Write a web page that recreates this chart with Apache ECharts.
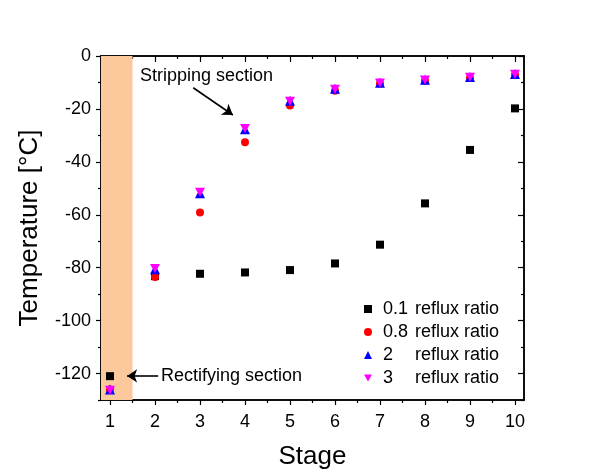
<!DOCTYPE html>
<html>
<head>
<meta charset="utf-8">
<script src="https://cdn.jsdelivr.net/npm/echarts@6/dist/echarts.min.js"></script>
<style>html,body{margin:0;padding:0;background:#fff}#c{width:595px;height:476px}</style>
</head>
<body>
<div id="c"></div>
<script>
const stages = [1, 2, 3, 4, 5, 6, 7, 8, 9, 10];
const reflux01 = [-121, -83.2, -82.3, -81.8, -80.9, -78.4, -71.3, -55.7, -35.5, -19.8];
const reflux08 = [-126, -83.5, -59.1, -32.6, -18.7, -13.1, -10.4, -9.4, -8.2, -7.1];
const reflux2 = [-126, -80.6, -51.9, -27.7, -16.9, -12.4, -10.1, -9.0, -7.9, -6.8];
const reflux3 = [-126.3, -80.3, -51.5, -27.4, -17.1, -12.6, -10.2, -9.1, -8.0, -6.9];
const seriesNames = ['0.1', '0.8', '2', '3'];
const xMajor = stages;
const xMinor = [1.5, 2.5, 3.5, 4.5, 5.5, 6.5, 7.5, 8.5, 9.5];
const yMajor = [0, -20, -40, -60, -80, -100, -120];
const yMinor = [-10, -30, -50, -70, -90, -110, -130];
const rectifyingBand = [0.8, 1.5];

const FONT = 'Arial, "Liberation Sans", sans-serif';
const pair = (xs, ys) => xs.map((x, i) => [x, ys[i]]);
const line = { show: true, onZero: false, lineStyle: { color: '#000', width: 1.5 } };

function xAx(pos, ticks, len, inside, labels) {
  return {
    type: 'value', position: pos, min: 0.8, max: 10.2,
    axisLine: line, splitLine: { show: false },
    axisTick: { show: true, customValues: ticks, length: len, inside: inside, lineStyle: { color: '#000', width: 1.2 } },
    axisLabel: labels ? { show: true, customValues: xMajor, fontSize: 18, color: '#000', fontFamily: FONT, margin: 13 } : { show: false }
  };
}
function yAx(pos, ticks, len, inside, labels) {
  return {
    type: 'value', position: pos, min: -130, max: 0,
    axisLine: line, splitLine: { show: false },
    axisTick: { show: true, customValues: ticks, length: len, inside: inside, lineStyle: { color: '#000', width: 1.2 } },
    axisLabel: labels ? { show: true, customValues: yMajor, fontSize: 18, color: '#000', fontFamily: FONT, margin: 10 } : { show: false }
  };
}

const xAxes = [
  xAx('bottom', xMajor, 5, false, true),
  xAx('bottom', xMinor, 3, false, false),
  xAx('top', xMajor, 6, true, false),
  xAx('top', xMinor, 3, true, false)
];
Object.assign(xAxes[0], { name: 'Stage', nameLocation: 'middle', nameGap: 44, nameTextStyle: { fontSize: 26, color: '#000', fontFamily: FONT } });
const yAxes = [
  yAx('left', yMajor, 5, false, true),
  yAx('left', yMinor, 3, false, false),
  yAx('right', yMajor, 6, true, false),
  yAx('right', yMinor, 3, true, false)
];
Object.assign(yAxes[0], { name: 'Temperature [°C]', nameLocation: 'middle', nameRotate: 90, nameGap: 58, nameTextStyle: { fontSize: 26, color: '#000', fontFamily: FONT } });

const downTri = 'path://M0,0 L10,0 L5,9 Z';

const chart = echarts.init(document.getElementById('c'), null, { renderer: 'canvas' });
chart.setOption({
  backgroundColor: '#fff',
  animation: false,
  grid: { left: 101, top: 56, right: 71, bottom: 76, containLabel: false },
  xAxis: xAxes,
  yAxis: yAxes,
  legend: {
    orient: 'vertical', left: 359, top: 295, itemWidth: 8, itemHeight: 8, itemGap: 5,
    data: seriesNames.map(n => n + ' reflux ratio'),
    formatter: function (name) {
      const v = name.split(' ')[0];
      return '{a|' + v + '}{b|reflux ratio}';
    },
    textStyle: {
      fontFamily: FONT, fontSize: 18, color: '#000',
      rich: {
        a: { width: 32, padding: [0, 0, 0, 6], fontSize: 18, fontFamily: FONT, color: '#000', lineHeight: 18 },
        b: { fontSize: 18, fontFamily: FONT, color: '#000', lineHeight: 18 }
      }
    }
  },
  series: [
    {
      name: 'band', type: 'scatter', data: [], z: 0, silent: true,
      markArea: {
        silent: true,
        itemStyle: { color: '#fbc99b', opacity: 1 },
        data: [[{ xAxis: rectifyingBand[0] }, { xAxis: rectifyingBand[1] }]]
      },
      markLine: {
        silent: true, symbol: ['none', 'arrow'], symbolSize: 10,
        lineStyle: { color: '#000', width: 1.6, type: 'solid', opacity: 1 },
        itemStyle: { color: '#000' },
        label: { show: false },
        data: [
          [{ coord: [2.85, -12.0] }, { coord: [3.73, -22.3] }],
          [{ coord: [2.07, -120.9] }, { coord: [1.38, -120.9] }]
        ]
      }
    },
    { name: '0.1 reflux ratio', type: 'scatter', symbol: 'rect', symbolSize: 8, itemStyle: { color: '#000', opacity: 1 }, data: pair(stages, reflux01), z: 3 },
    { name: '0.8 reflux ratio', type: 'scatter', symbol: 'circle', symbolSize: 8, itemStyle: { color: '#ff0000', opacity: 1 }, data: pair(stages, reflux08), z: 4 },
    { name: '2 reflux ratio', type: 'scatter', symbol: 'triangle', symbolSize: 10, itemStyle: { color: '#0000ff', opacity: 1 }, data: pair(stages, reflux2), z: 5 },
    { name: '3 reflux ratio', type: 'scatter', symbol: downTri, symbolSize: [10, 9], itemStyle: { color: '#ff00ff', opacity: 1 }, data: pair(stages, reflux3), z: 6 }
  ],
  graphic: [
    { type: 'text', left: 140, top: 67, style: { text: 'Stripping section', fontSize: 18, fontFamily: FONT, fill: '#000' } },
    { type: 'text', left: 161, top: 367, style: { text: 'Rectifying section', fontSize: 18, fontFamily: FONT, fill: '#000' } }
  ]
});
</script>
</body>
</html>
